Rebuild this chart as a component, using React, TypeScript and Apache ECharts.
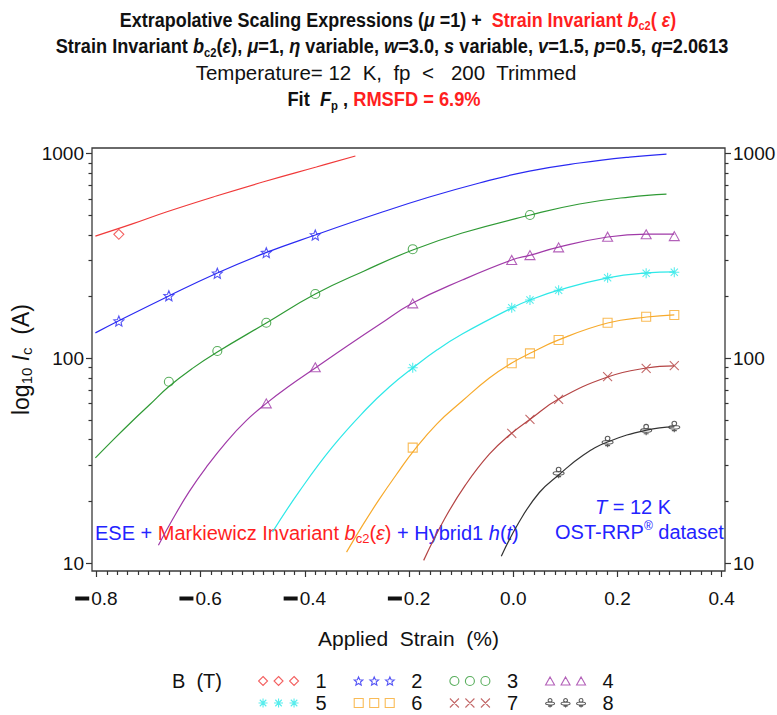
import { useEffect, useRef } from 'react';
import * as echarts from 'echarts';

// Axis ticks
const strainTicks = [-0.8, -0.6, -0.4, -0.2, 0.0, 0.2, 0.4];
const icTicks = [10, 100, 1000];
const icMinorTicks = [20, 30, 40, 50, 60, 70, 80, 90, 200, 300, 400, 500, 600, 700, 800, 900];
const fieldNames = ['1', '2', '3', '4', '5', '6', '7', '8'];

// Fitted scaling curves, [applied strain (%), Ic (A)]
const fitB1 = [[-0.802, 395], [-0.731, 453], [-0.666, 518], [-0.570, 620], [-0.474, 734], [-0.378, 859], [-0.303, 972]];
const fitB2 = [[-0.802, 133], [-0.758, 152], [-0.662, 201], [-0.568, 261], [-0.476, 327], [-0.380, 400], [-0.257, 512], [-0.161, 613], [-0.065, 718], [0.031, 821], [0.127, 899], [0.223, 961], [0.294, 994]];
const fitB3 = [[-0.802, 32.6], [-0.766, 40.4], [-0.731, 49.4], [-0.697, 59.6], [-0.662, 72.4], [-0.615, 89.5], [-0.568, 107.3], [-0.474, 148.7], [-0.380, 206], [-0.286, 267], [-0.193, 338], [-0.098, 409], [0.033, 501], [0.127, 567], [0.223, 613], [0.294, 634]];
const fitB4 = [[-0.681, 12.2], [-0.654, 16.3], [-0.622, 22.3], [-0.589, 29.4], [-0.550, 39.2], [-0.512, 49.7], [-0.474, 60.2], [-0.430, 73.2], [-0.380, 89.6], [-0.318, 115], [-0.257, 146], [-0.193, 186.1], [-0.098, 241], [-0.003, 302], [0.033, 319], [0.087, 349], [0.181, 391], [0.256, 404], [0.309, 404]];
const fitB5 = [[-0.462, 14.2], [-0.410, 22.5], [-0.347, 36.9], [-0.282, 56.5], [-0.238, 72.4], [-0.193, 89.6], [-0.146, 110], [-0.098, 131.3], [-0.003, 176], [0.033, 193], [0.087, 215], [0.181, 247], [0.256, 261], [0.309, 264]];
const fitB6 = [[-0.320, 11.3], [-0.289, 15.3], [-0.257, 20.5], [-0.218, 28.5], [-0.193, 34.8], [-0.147, 47.7], [-0.098, 61.8], [-0.046, 80.1], [-0.003, 94.8], [0.033, 106], [0.087, 123], [0.181, 148.7], [0.256, 159], [0.309, 163]];
const fitB7 = [[-0.172, 10.3], [-0.132, 16.4], [-0.092, 24.0], [-0.046, 34.0], [-0.003, 43.1], [0.033, 50.5], [0.087, 63.2], [0.181, 81], [0.256, 89.6], [0.309, 91.7]];
const fitB8 = [[-0.023, 10.8], [0.012, 16.0], [0.050, 22.1], [0.087, 26.9], [0.134, 33.6], [0.181, 39.0], [0.256, 44.6], [0.309, 46.2]];

// Measured critical currents, [applied strain (%), Ic (A)]
const ptsB1 = [[-0.757, 403]];
const ptsB2 = [[-0.757, 152], [-0.661, 202], [-0.568, 260], [-0.474, 328], [-0.380, 400]];
const ptsB3 = [[-0.661, 76.8], [-0.568, 108.5], [-0.474, 149], [-0.380, 206], [-0.193, 341], [0.032, 501]];
const ptsB4 = [[-0.474, 60.2], [-0.380, 90.3], [-0.193, 185.4], [-0.003, 302], [0.032, 319], [0.087, 348], [0.181, 392], [0.255, 403], [0.309, 395]];
const ptsB5 = [[-0.193, 89.9], [-0.003, 176.5], [0.032, 192.5], [0.087, 215], [0.181, 247.5], [0.255, 260], [0.309, 263]];
const ptsB6 = [[-0.193, 36.6], [-0.003, 94.5], [0.032, 105.7], [0.087, 122.8], [0.181, 149], [0.255, 159.6], [0.309, 162.6]];
const ptsB7 = [[-0.003, 43], [0.032, 50.3], [0.087, 63], [0.181, 81.3], [0.255, 89.3], [0.309, 92]];
const ptsB8 = [[0.087, 27.6], [0.181, 39.1], [0.255, 44.7], [0.309, 46.3]];

const fits = [fitB1, fitB2, fitB3, fitB4, fitB5, fitB6, fitB7, fitB8];
const points = [ptsB1, ptsB2, ptsB3, ptsB4, ptsB5, ptsB6, ptsB7, ptsB8];
const colors = ['#f03a3a', '#2a2af2', '#2f9a35', '#a03aa8', '#2ee8e8', '#f7aa2c', '#b44444', '#333333'];
const markers = ['diamond', 'star', 'circle', 'triangle', 'asterisk', 'square', 'cross', 'club'];

const SANS = '"Liberation Sans", Arial, sans-serif';
const RED = '#ff1f1f';
const BLUE = '#2323ff';
const INK = '#111111';

// Plot rectangle and axis extents
const GRID = { left: 92, top: 148, width: 633, height: 423 };
const X_MIN = -0.8085;
const X_MAX = 0.4063;
const Y_MIN = 9.14;
const Y_MAX = 1064;

const f = (n: number) => n.toFixed(2);

function markerPath(kind: string, cx: number, cy: number, s: number): string {
  const h = s / 2;
  switch (kind) {
    case 'diamond':
      return `M${f(cx)} ${f(cy - h)}L${f(cx + h)} ${f(cy)}L${f(cx)} ${f(cy + h)}L${f(cx - h)} ${f(cy)}Z`;
    case 'star': {
      let d = '';
      for (let k = 0; k < 10; k++) {
        const r = k % 2 === 0 ? h : h * 0.45;
        const a = -Math.PI / 2 + (k * Math.PI) / 5;
        d += (k === 0 ? 'M' : 'L') + f(cx + r * Math.cos(a)) + ' ' + f(cy + r * Math.sin(a));
      }
      return d + 'Z';
    }
    case 'circle':
      return `M${f(cx - h)} ${f(cy)}A${f(h)} ${f(h)} 0 1 1 ${f(cx + h)} ${f(cy)}A${f(h)} ${f(h)} 0 1 1 ${f(cx - h)} ${f(cy)}Z`;
    case 'triangle':
      return `M${f(cx)} ${f(cy - h)}L${f(cx + h)} ${f(cy + h * 0.8)}L${f(cx - h)} ${f(cy + h * 0.8)}Z`;
    case 'asterisk': {
      const d = h * 0.72;
      return `M${f(cx)} ${f(cy - h)}L${f(cx)} ${f(cy + h)}M${f(cx - h)} ${f(cy)}L${f(cx + h)} ${f(cy)}` +
        `M${f(cx - d)} ${f(cy - d)}L${f(cx + d)} ${f(cy + d)}M${f(cx + d)} ${f(cy - d)}L${f(cx - d)} ${f(cy + d)}`;
    }
    case 'square':
      return `M${f(cx - h)} ${f(cy - h)}L${f(cx + h)} ${f(cy - h)}L${f(cx + h)} ${f(cy + h)}L${f(cx - h)} ${f(cy + h)}Z`;
    case 'cross':
      return `M${f(cx - h)} ${f(cy - h)}L${f(cx + h)} ${f(cy + h)}M${f(cx + h)} ${f(cy - h)}L${f(cx - h)} ${f(cy + h)}`;
    case 'club': {
      const r = h * 0.42;
      const ct = cy - h + r;
      const ce = cy + h * 0.1;
      const ry = h * 0.33;
      return `M${f(cx - r)} ${f(ct)}A${f(r)} ${f(r)} 0 1 1 ${f(cx + r)} ${f(ct)}A${f(r)} ${f(r)} 0 1 1 ${f(cx - r)} ${f(ct)}Z` +
        `M${f(cx - h)} ${f(ce)}A${f(h)} ${f(ry)} 0 1 1 ${f(cx + h)} ${f(ce)}A${f(h)} ${f(ry)} 0 1 1 ${f(cx - h)} ${f(ce)}Z` +
        `M${f(cx)} ${f(ce + ry)}L${f(cx)} ${f(cy + h)}M${f(cx - h * 0.45)} ${f(cy + h * 0.7)}L${f(cx + h * 0.45)} ${f(cy + h * 0.7)}`;
    }
    default:
      return '';
  }
}

const markerSize = (kind: string): number | number[] => {
  if (kind === 'club') return [11, 11];
  if (kind === 'triangle') return [10, 9];
  if (kind === 'square' || kind === 'circle' || kind === 'cross') return 9;
  return 10;
};

function legendIcon(kind: string): string {
  return 'path://' + [0, 1, 2].map((i) => markerPath(kind, 4.5 + i * 15.5, 4.5, 9)).join('');
}

function buildOption(): any {
  const lg = (v: number) => Math.log10(v);
  const yMajor = icTicks.map(lg);
  const yMinor = icMinorTicks.map(lg);
  const xMinor: number[] = [];
  for (let i = -40; i <= 20; i++) {
    if (i % 10 !== 0) xMinor.push(Math.round(i * 2) / 100);
  }
  const tickLine = { color: '#333', width: 1.2 };
  const noLine = { show: false, onZero: false };
  const tickLabel = { color: INK, fontSize: 19, fontFamily: SANS };

  const xLabelFormatter = (v: number) => {
    const s = Math.abs(v).toFixed(1);
    return v < -1e-9 ? '{m| }{g| }' + s : s;
  };

  const series: any[] = [];
  fits.forEach((fit, i) => {
    series.push({
      type: 'line',
      name: 'fit ' + fieldNames[i],
      xAxisIndex: 0,
      yAxisIndex: 0,
      data: fit,
      showSymbol: false,
      smooth: 0.45,
      lineStyle: { color: colors[i], width: 1.2 },
      silent: true,
      z: 2,
    });
  });
  points.forEach((pts, i) => {
    series.push({
      type: 'scatter',
      name: fieldNames[i],
      xAxisIndex: 0,
      yAxisIndex: 0,
      data: pts,
      symbol: 'path://' + markerPath(markers[i], 5, 5, 10),
      symbolSize: markerSize(markers[i]),
      itemStyle: { color: 'transparent', borderColor: colors[i], borderWidth: 1.1 },
      z: 3,
    });
  });

  const legendItems = (idx: number[]) =>
    idx.map((i) => ({
      name: fieldNames[i],
      icon: legendIcon(markers[i]),
      itemStyle: { color: 'transparent', borderColor: colors[i], borderWidth: 1.1 },
    }));
  const legendBase = {
    left: 258,
    orient: 'horizontal',
    padding: 0,
    itemWidth: 40,
    itemHeight: 9,
    itemGap: 27,
    selectedMode: false,
    textStyle: { color: INK, fontSize: 20, fontFamily: SANS, padding: [0, 0, 0, 12], lineHeight: 20 },
  };

  // Bold condensed title lettering
  const titleRich = (size: number) => {
    const base = { fontSize: size, fontWeight: 'bold', fontFamily: SANS, lineHeight: 26 };
    const sub = { fontSize: 13, fontWeight: 'bold', fontFamily: SANS, lineHeight: 14, verticalAlign: 'bottom' };
    return {
      k: { ...base, fill: INK },
      ki: { ...base, fill: INK, fontStyle: 'italic' },
      ks: { ...sub, fill: INK },
      r: { ...base, fill: RED },
      ri: { ...base, fill: RED, fontStyle: 'italic' },
      rs: { ...sub, fill: RED },
    };
  };

  const noteRich = {
    b: { fill: BLUE, fontSize: 20, fontFamily: SANS, lineHeight: 24 },
    bi: { fill: BLUE, fontSize: 20, fontStyle: 'italic', fontFamily: SANS, lineHeight: 24 },
    r: { fill: RED, fontSize: 20, fontFamily: SANS, lineHeight: 24 },
    ri: { fill: RED, fontSize: 20, fontStyle: 'italic', fontFamily: SANS, lineHeight: 24 },
    rs: { fill: RED, fontSize: 13, fontFamily: SANS, lineHeight: 13, verticalAlign: 'bottom' },
    sup: { fill: BLUE, fontSize: 12, fontFamily: SANS, lineHeight: 12, verticalAlign: 'top' },
  };

  const text = (x: number, y: number, t: string, rich: any, align = 'center', scaleX = 1) => ({
    type: 'text',
    x,
    y,
    scaleX,
    silent: true,
    style: { text: t, rich, align, verticalAlign: 'middle', fill: INK, fontFamily: SANS, fontSize: 20 },
  });

  return {
    animation: false,
    backgroundColor: '#ffffff',
    grid: [
      { ...GRID, show: true, borderColor: '#3a3a3a', borderWidth: 1.3, backgroundColor: 'transparent', outerBoundsMode: 'none', containLabel: false },
      { ...GRID, outerBoundsMode: 'none', containLabel: false },
      { ...GRID, outerBoundsMode: 'none', containLabel: false },
    ],
    xAxis: [
      {
        gridIndex: 0, type: 'value', min: X_MIN, max: X_MAX,
        axisLine: noLine, splitLine: { show: false },
        axisTick: { show: true, customValues: strainTicks, length: 6, lineStyle: tickLine },
        axisLabel: {
          show: true, customValues: strainTicks, margin: 18, formatter: xLabelFormatter, ...tickLabel,
          rich: { m: { width: 14, height: 4, backgroundColor: '#111' }, g: { width: 2 } },
        },
      },
      {
        gridIndex: 1, type: 'value', min: X_MIN, max: X_MAX,
        axisLine: noLine, splitLine: { show: false },
        axisTick: { show: true, customValues: xMinor, length: 4, lineStyle: tickLine },
        axisLabel: { show: false },
        name: 'Applied  Strain  (%)', nameLocation: 'middle', nameGap: 57, nameMoveOverlap: false,
        nameTextStyle: { color: INK, fontSize: 21, fontFamily: SANS },
      },
      { gridIndex: 2, type: 'value', min: X_MIN, max: X_MAX, show: false, axisLine: noLine },
    ],
    yAxis: [
      { gridIndex: 0, type: 'log', logBase: 10, min: Y_MIN, max: Y_MAX, show: false, axisLine: noLine },
      {
        gridIndex: 0, type: 'value', position: 'right', min: lg(Y_MIN), max: lg(Y_MAX),
        axisLine: noLine, splitLine: { show: false },
        axisTick: { show: true, customValues: yMajor, length: 6, lineStyle: tickLine },
        axisLabel: { show: true, customValues: yMajor, margin: 8, formatter: (v: number) => String(Math.round(10 ** v)), ...tickLabel },
      },
      {
        gridIndex: 1, type: 'value', position: 'left', min: lg(Y_MIN), max: lg(Y_MAX),
        axisLine: noLine, splitLine: { show: false },
        axisTick: { show: true, customValues: yMajor, length: 6, lineStyle: tickLine },
        axisLabel: { show: true, customValues: yMajor, margin: 8, formatter: (v: number) => String(Math.round(10 ** v)), ...tickLabel },
        name: '{t|log}{s|10} {ti|I}{s|c}  {t|(A)}', nameLocation: 'middle', nameGap: 58, nameMoveOverlap: false,
        nameTextStyle: {
          color: INK, fontSize: 23, fontFamily: SANS,
          rich: {
            t: { fontSize: 23, fontFamily: SANS, color: INK, lineHeight: 26 },
            ti: { fontSize: 23, fontStyle: 'italic', fontFamily: SANS, color: INK, lineHeight: 26 },
            s: { fontSize: 15, fontFamily: SANS, color: INK, lineHeight: 15, verticalAlign: 'bottom' },
          },
        },
      },
      {
        gridIndex: 1, type: 'value', position: 'right', min: lg(Y_MIN), max: lg(Y_MAX),
        axisLine: noLine, splitLine: { show: false },
        axisTick: { show: true, customValues: yMinor, length: 3.5, lineStyle: tickLine },
        axisLabel: { show: false },
      },
      {
        gridIndex: 2, type: 'value', position: 'left', min: lg(Y_MIN), max: lg(Y_MAX),
        axisLine: noLine, splitLine: { show: false },
        axisTick: { show: true, customValues: yMinor, length: 3.5, lineStyle: tickLine },
        axisLabel: { show: false },
      },
    ],
    legend: [
      { ...legendBase, top: 671, data: legendItems([0, 1, 2, 3]) },
      { ...legendBase, top: 693, data: legendItems([4, 5, 6, 7]) },
    ],
    graphic: [
      text(398, 19,
        '{k|Extrapolative Scaling Expressions (}{ki|μ}{k| =1) +  }{r|Strain Invariant }{ri|b}{rs|c2}{r|( }{ri|ε}{r|)}',
        titleRich(21), 'center', 0.855),
      text(392, 46,
        '{k|Strain Invariant }{ki|b}{ks|c2}{k|(}{ki|ε}{k|), }{ki|μ}{k|=1, }{ki|η}{k| variable, }{ki|w}{k|=3.0, }{ki|s}{k| variable, }{ki|v}{k|=1.5, }{ki|p}{k|=0.5, }{ki|q}{k|=2.0613}',
        titleRich(21), 'center', 0.865),
      text(386, 72, '{n|Temperature= 12  K,  fp  <   200  Trimmed}',
        { n: { fill: INK, fontSize: 20.5, fontFamily: SANS, lineHeight: 24 } }),
      text(384, 99, '{k|Fit  }{ki|F}{ks|p}{k| , }{r|RMSFD = 6.9%}', titleRich(21), 'center', 0.87),
      text(95, 533,
        '{b|ESE + }{r|Markiewicz Invariant }{ri|b}{rs|c2}{r|(}{ri|ε}{r|)}{b| + Hybrid1 }{bi|h}{b|(}{bi|t}{b|)}',
        noteRich, 'left'),
      text(633, 507, '{bi|T}{b| = 12 K}', noteRich),
      text(555, 532, '{b|OST-RRP}{sup|®}{b| dataset}', noteRich, 'left'),
      text(172, 681, '{n|B  (T)}', { n: { fill: INK, fontSize: 20, fontFamily: SANS, lineHeight: 24 } }, 'left'),
    ],
    series,
  };
}

export default function App() {
  const ref = useRef<HTMLDivElement>(null);
  useEffect(() => {
    const el = ref.current;
    if (!el) return;
    const chart = echarts.init(el, undefined, { renderer: 'svg' });
    chart.setOption(buildOption());
    return () => chart.dispose();
  }, []);
  return (
    <div
      ref={ref}
      style={{ position: 'fixed', left: 0, top: 0, width: 777, height: 715, background: '#ffffff' }}
    />
  );
}
